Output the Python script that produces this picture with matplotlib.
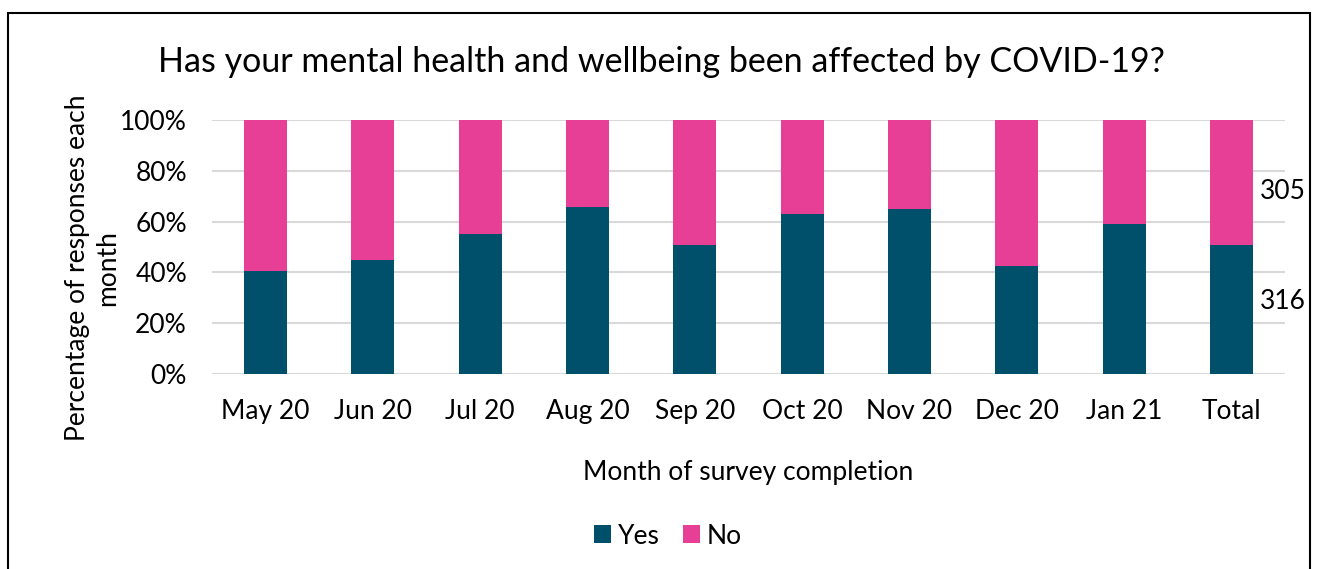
import matplotlib
matplotlib.use("Agg")
import matplotlib.pyplot as plt
import numpy as np
from matplotlib.patches import Rectangle

categories = ["May 20", "Jun 20", "Jul 20", "Aug 20", "Sep 20", "Oct 20", "Nov 20", "Dec 20", "Jan 21", "Total"]
yes_pct = [40.7, 44.9, 55.2, 65.9, 50.6, 63.1, 64.8, 42.7, 59.2, 50.9]
no_pct = [100 - v for v in yes_pct]
total_yes_count = 316
total_no_count = 305

yes_color = "#01506B"
no_color = "#E83F96"
font = "Lato"
fs = 19

plt.rcParams["font.family"] = [font, "DejaVu Sans"]

fig = plt.figure(figsize=(13.18, 5.69), dpi=100)
ax = fig.add_axes([212/1318, 1-374/569, (1285-212)/1318, (374-120)/569])

x = np.arange(len(categories))
ax.bar(x, yes_pct, width=0.4, color=yes_color, label="Yes", zorder=3)
ax.bar(x, no_pct, width=0.4, bottom=yes_pct, color=no_color, label="No", zorder=3)

ax.set_xlim(-0.5, len(categories) - 0.5)
ax.set_ylim(0, 100)
ax.set_yticks(np.arange(0, 101, 20))
ax.set_yticklabels([f"{v}%" for v in range(0, 101, 20)], fontsize=fs)
ax.set_xticks(x)
ax.set_xticklabels(categories, fontsize=fs)
ax.tick_params(axis="both", length=0)
ax.tick_params(axis="x", pad=18)
ax.tick_params(axis="y", pad=18)
ax.grid(axis="y", color="#d9d9d9", linewidth=1.5, zorder=0)
for s in ax.spines.values():
    s.set_visible(False)

# count labels for the Total bar
ax.text(len(categories) - 1 + 0.27, yes_pct[-1] + no_pct[-1] / 2 - 3.5, str(total_no_count),
        fontsize=fs, va="center", ha="left")
ax.text(len(categories) - 1 + 0.27, yes_pct[-1] / 2 + 3, str(total_yes_count),
        fontsize=fs, va="center", ha="left")

ax.set_xlabel("Month of survey completion", fontsize=fs, labelpad=26)
fig.text(93/1318, 1 - 268/569, "Percentage of responses each\nmonth", rotation=90,
         fontsize=fs, ha="center", va="center", linespacing=1.25)

fig.text(661/1318, 1 - 62/569, "Has your mental health and wellbeing been affected by COVID-19?",
         fontsize=24.5, ha="center", va="center")

leg = fig.legend(loc="center", bbox_to_anchor=(668/1318, 1 - 536/569), ncol=2, frameon=False,
                 fontsize=fs, handlelength=0.65, handleheight=0.65, handletextpad=0.25,
                 columnspacing=0.9)

fig.add_artist(Rectangle((8/1318, -0.05), (1310-8)/1318, 1 - 13/569 + 0.05,
                         transform=fig.transFigure, fill=False, edgecolor="black", linewidth=1.5))

fig.savefig("out.png", dpi=100)
